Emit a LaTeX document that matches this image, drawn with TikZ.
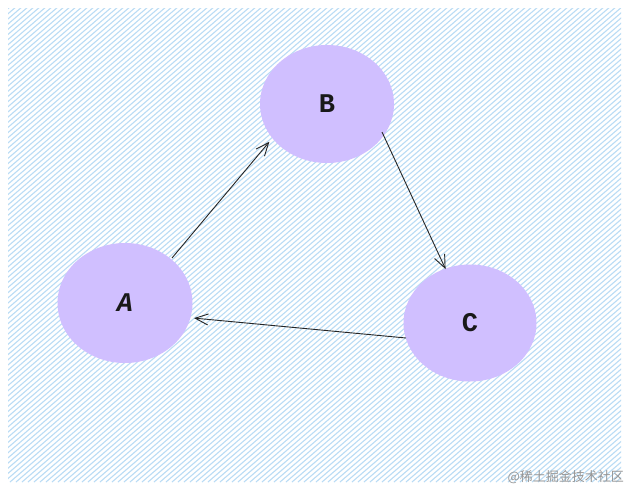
\documentclass[tikz,border=0pt]{standalone}
\usepackage{fontspec}
\newfontfamily\lab{Liberation Mono}
\newfontfamily\cjk{Noto Sans CJK SC}
\usetikzlibrary{arrows.meta,shapes.geometric}
\definecolor{hatch}{RGB}{186,220,245}
\definecolor{nodefill}{RGB}{208,191,255}
\definecolor{wm}{RGB}{150,150,150}
\tikzset{
  circnode/.style={draw=none, fill=nodefill, ellipse, inner sep=0pt, text=black!90, font=\lab\bfseries\fontsize{27pt}{27pt}\selectfont},
  conn/.style={draw=black!85, line width=0.9pt, -{Straight Barb[length=13pt,width=11pt,line width=0.9pt]}, shorten >=1pt}
}
\begin{document}
\begin{tikzpicture}[x=1pt,y=-1pt]
\useasboundingbox (0,0) rectangle (630,490);
\fill[white] (0,0) rectangle (630,490);
\begin{scope}
\clip (8,8) rectangle (621,482);
\foreach \i in {0,6,...,1180}{
  \draw[hatch, line width=1.1pt] (\i-560,482) -- (\i,0);
}
\end{scope}
\node[circnode, minimum width=134pt, minimum height=118pt] (B) at (327,104) {B};
\node[circnode, minimum width=135pt, minimum height=120pt] (A) at (125,303) {\itshape A};
\node[circnode, minimum width=133pt, minimum height=117pt] (C) at (470,323) {C};
\coordinate (a1) at (172,258);
\coordinate (b1) at (270,141);
\coordinate (b2) at (382,132);
\coordinate (c1) at (446,270);
\coordinate (c2) at (406,338);
\coordinate (a2) at (193,318);
\draw[conn] (a1) -- (b1);
\draw[conn] (b2) -- (c1);
\draw[conn] (c2) -- (a2);
\node[anchor=east, text=wm, font=\cjk\fontsize{13pt}{14pt}\selectfont, inner sep=0pt] (wmk) at (624,477) {@稀土掘金技术社区};
\end{tikzpicture}
\end{document}
